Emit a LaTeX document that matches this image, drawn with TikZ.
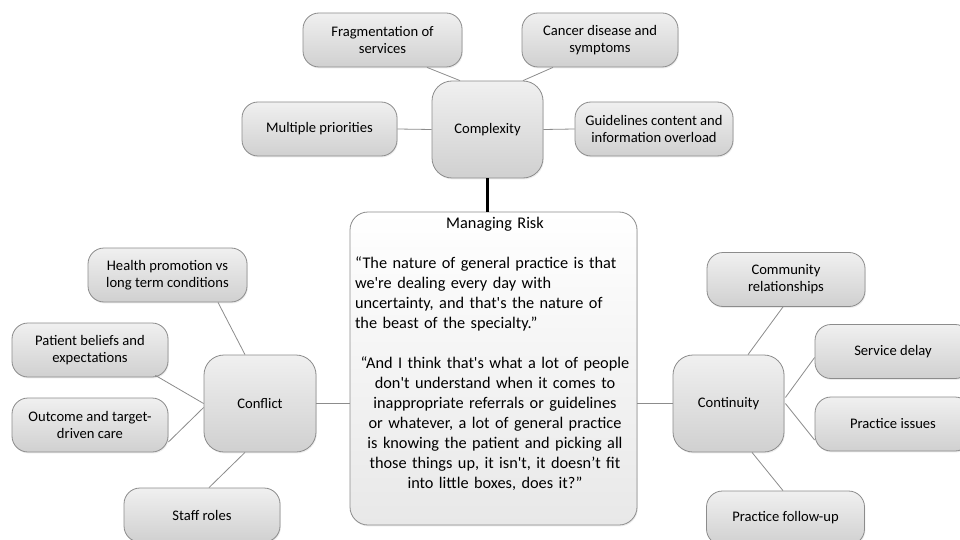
\documentclass[tikz,border=0pt]{standalone}
\usepackage{fontspec}
\setmainfont{Carlito}[Ligatures=TeXOff]
\usetikzlibrary{calc,shadows}
\definecolor{bordergray}{HTML}{8C8C8C}
\definecolor{linegray}{HTML}{8C8C8C}
\definecolor{topgray}{HTML}{F0F0F0}
\definecolor{botgray}{HTML}{D0D0D0}
\tikzset{
  topic/.style={draw=bordergray, line width=0.8pt, rounded corners=16pt,
    top color=topgray, bottom color=botgray, align=center,
    minimum width=157pt, minimum height=54pt, inner sep=2pt,
    font=\fontsize{14.6}{17}\selectfont,
    drop shadow={opacity=0.15, shadow xshift=0.8pt, shadow yshift=-1.4pt}},
  hub/.style={topic, rounded corners=20pt, minimum width=111pt, minimum height=97pt},
  riskbox/.style={draw=bordergray, line width=0.8pt, rounded corners=18pt,
    top color=white, bottom color=black!9,
    minimum width=287pt, minimum height=313pt,
    drop shadow={opacity=0.15, shadow xshift=0.8pt, shadow yshift=-1.4pt}},
  link/.style={draw=linegray, line width=0.8pt},
  thick link/.style={draw=black, line width=2.2pt}
}
\begin{document}
\begin{tikzpicture}[x=1pt,y=-1pt]
\useasboundingbox (0,0) rectangle (960,540);
\fill[white] (0,0) rectangle (960,540);

% central box
\node[riskbox] (risk) at (493.5,368.5) {};
\node[anchor=north, text width=280pt, inner sep=0pt,
      font=\fontsize{16.3}{20}\selectfont] (risktext) at (495,217)
 {{\centering Managing Risk\par}\vspace{20pt}
  {\raggedright “The nature of general practice is that\\
  we're dealing every day with\\
  uncertainty, and that's the nature of\\
  the beast of the specialty.”\par}\vspace{20pt}
  {\centering “And I think that's what a lot of people\\
  don't understand when it comes to\\
  inappropriate referrals or guidelines\\
  or whatever, a lot of general practice\\
  is knowing the patient and picking all\\
  those things up, it isn't, it doesn’t fit\\
  into little boxes, does it?”\par}};

% Complexity group
\node[hub] (complexity) at (487.5,129.5) {Complexity};
\node[topic, minimum width=159pt] (frag) at (382.5,40) {Fragmentation of\\services};
\node[topic, minimum width=156pt] (cancer) at (600,40) {Cancer disease and\\symptoms};
\node[topic, minimum width=155pt] (multi) at (319.5,129) {Multiple priorities};
\node[topic, minimum width=158pt] (guide) at (654,129) {Guidelines content and\\information overload};

% Conflict group
\node[hub, minimum width=112pt] (conflict) at (260,403.5) {Conflict};
\node[topic, minimum width=159pt] (health) at (167.5,275) {Health promotion vs\\long term conditions};
\node[topic, minimum width=156pt] (patient) at (90,350) {Patient beliefs and\\expectations};
\node[topic, minimum width=156pt] (outcome) at (90,425) {Outcome and target-\\driven care};
\node[topic, minimum width=156pt] (staff) at (202,515) {Staff roles};

% Continuity group
\node[hub] (continuity) at (728.5,403.5) {Continuity};
\node[topic, minimum width=158pt] (community) at (786,279.5) {Community\\relationships};
\node[topic, minimum width=156pt] (delay) at (893,351.5) {Service delay};
\node[topic, minimum width=156pt] (issues) at (893,424) {Practice issues};
\node[topic, minimum width=158pt] (followup) at (785.5,518) {Practice follow-up};

% connectors: complexity
\draw[link] ($(frag.south)+(44.5,0)$) -- ($(complexity.north)+(-27.5,0)$);
\draw[link] ($(cancer.south)+(-47,0)$) -- ($(complexity.north)+(35.5,0)$);
\draw[link] (multi.east) -- (complexity.west);
\draw[link] (complexity.east) -- (guide.west);
\draw[thick link] (complexity.south) -- (complexity.south |- risk.north);

% connectors: conflict
\draw[link] ($(health.south)+(50.5,0)$) -- ($(conflict.north)+(-15,0)$);
\draw[link] ($(patient.south east)+(-13,-2)$) -- (conflict.west);
\draw[link] ($(outcome.east)+(0,17)$) -- ($(conflict.west)+(0,4)$);
\draw[link] ($(conflict.south)+(-15,0)$) -- ($(staff.north)+(7,0)$);
\draw[link] (conflict.east) -- (conflict.east -| risk.west);

% connectors: continuity
\draw[link] (continuity.west -| risk.east) -- (continuity.west);
\draw[link] ($(continuity.north)+(19.5,0)$) -- ($(community.south)+(-3,0)$);
\draw[link] ($(continuity.east)+(1,-6)$) -- ($(delay.west)+(0,6)$);
\draw[link] ($(continuity.east)+(1,0)$) -- ($(issues.west)+(0,16)$);
\draw[link] ($(continuity.south)+(23.5,0)$) -- ($(followup.north)+(-2.5,0)$);
\end{tikzpicture}
\end{document}
